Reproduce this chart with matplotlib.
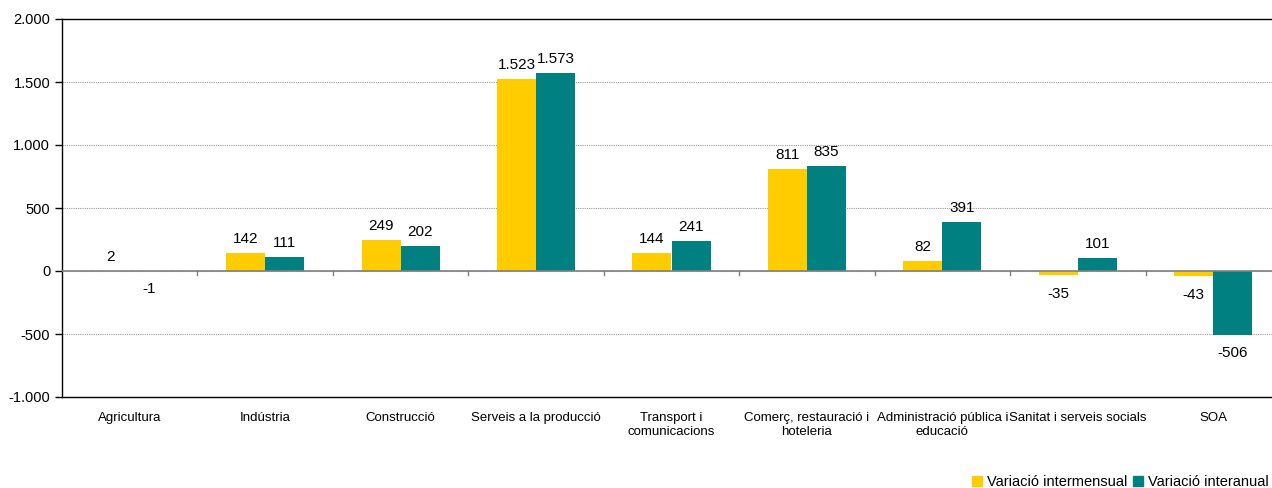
import numpy as np
import matplotlib.pyplot as plt
from matplotlib.patches import Patch

plt.rcParams['font.family'] = ['Liberation Sans', 'DejaVu Sans']

sectors = ["Agricultura", "Indústria", "Construcció", "Serveis a la producció",
           "Transport i\ncomunicacions", "Comerç, restauració i\nhoteleria",
           "Administració pública i\neducació", "Sanitat i serveis socials", "SOA"]
intermensual = [2, 142, 249, 1523, 144, 811, 82, -35, -43]
interanual = [-1, 111, 202, 1573, 241, 835, 391, 101, -506]

yellow = "#FFCC00"
teal = "#008080"


def fmt(v):
    s = f"{abs(v):,}".replace(",", ".")
    return ("-" if v < 0 else "") + s


fig = plt.figure(figsize=(12.72, 4.88), dpi=100)
ax = fig.add_axes([62/1272, 91/488, 1219/1272, 378/488])

x = np.arange(len(sectors))
w = 0.288
b1 = ax.bar(x - w/2, intermensual, w, color=yellow, zorder=3)
b2 = ax.bar(x + w/2, interanual, w, color=teal, zorder=3)

for bars, vals in ((b1, intermensual), (b2, interanual)):
    for rect, v in zip(bars, vals):
        cx = rect.get_x() + rect.get_width()/2
        if v >= 0:
            ax.annotate(fmt(v), (cx, v), xytext=(0, 5), textcoords="offset points",
                        ha="center", va="bottom", fontsize=11)
        else:
            ax.annotate(fmt(v), (cx, v), xytext=(0, -8), textcoords="offset points",
                        ha="center", va="top", fontsize=11)

ax.set_ylim(-1000, 2000)
ax.set_xlim(-0.5, len(sectors) - 0.5)
ax.set_yticks(range(-1000, 2001, 500))
ax.set_yticklabels([fmt(v) for v in range(-1000, 2001, 500)], fontsize=10.5)
ax.yaxis.grid(True, color="#999999", linestyle=(0, (1, 1)), linewidth=0.8, zorder=0)
ax.axhline(0, color="#808080", linewidth=1.2, zorder=4)

ax.set_xticks(x)
ax.set_xticklabels(sectors, fontsize=9.5)
ax.tick_params(axis="x", length=0, pad=11)
for b in np.arange(0.5, len(sectors) - 0.5, 1):
    ax.plot([b, b], [0, -28], color="#808080", linewidth=1, zorder=4)
ax.tick_params(axis="y", length=5, direction="out", width=1)

ax.spines["right"].set_visible(False)
for s in ("left", "top", "bottom"):
    ax.spines[s].set_color("black")
    ax.spines[s].set_linewidth(1)

handles = [Patch(color=yellow, label="Variació intermensual"),
           Patch(color=teal, label="Variació interanual")]
fig.legend(handles=handles, loc="lower right", bbox_to_anchor=(1.004, -0.02), ncol=2,
           frameon=False, fontsize=10.5, handlelength=0.7, handleheight=0.7,
           handletextpad=0.3, columnspacing=0.4, borderaxespad=0.2)

fig.savefig("out.png", dpi=100)
